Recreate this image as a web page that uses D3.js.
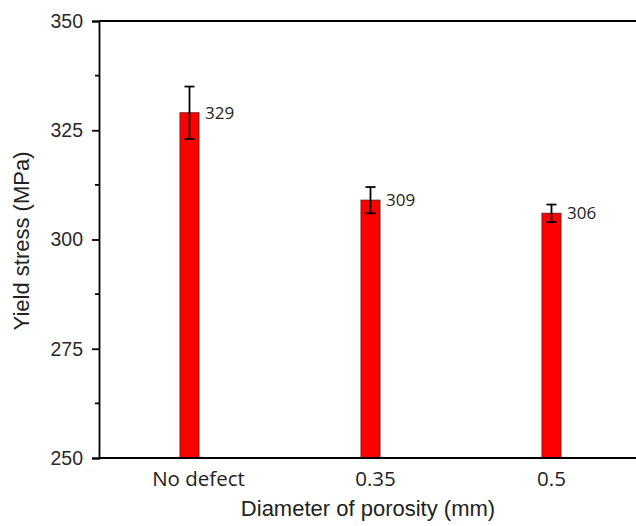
<!DOCTYPE html>
<html><head><meta charset="utf-8">
<script src="https://cdn.jsdelivr.net/npm/d3@7"></script>
<style>body{margin:0;background:#fff}svg{display:block}</style>
</head><body>
<svg id="c" width="636" height="526"></svg>
<script>
const categories = ["No defect", "0.35", "0.5"];
const values = [329, 309, 306];
const errors = [6, 3, 2];
const yTicks = [250, 275, 300, 325, 350];

const svg = d3.select("#c");
const m = {left: 99, top: 21, bottom: 458};
const x = d3.scaleLinear().domain([0.5, 3.5]).range([m.left, m.left + 543]);
const y = d3.scaleLinear().domain([250, 350]).range([m.bottom, m.top]);
const barW = 19;
const catLabelShift = [9, 5, 0]; // layout nudges of the category labels

// bars
svg.selectAll("rect.bar").data(values).enter().append("rect")
  .attr("x", (d, i) => x(i + 1) - barW / 2)
  .attr("y", d => y(d))
  .attr("width", barW)
  .attr("height", d => y(250) - y(d))
  .attr("fill", "#ff0000")
  .attr("stroke", "#7a1a1a").attr("stroke-width", 1);

// error bars
const eg = svg.selectAll("g.err").data(values).enter().append("g")
  .attr("stroke", "#000").attr("stroke-width", 1.8);
eg.append("line").attr("x1", (d, i) => x(i + 1)).attr("x2", (d, i) => x(i + 1))
  .attr("y1", (d, i) => y(d + errors[i])).attr("y2", (d, i) => y(d - errors[i]));
eg.append("line").attr("x1", (d, i) => x(i + 1) - 5).attr("x2", (d, i) => x(i + 1) + 5)
  .attr("y1", (d, i) => y(d + errors[i])).attr("y2", (d, i) => y(d + errors[i]));
eg.append("line").attr("x1", (d, i) => x(i + 1) - 5).attr("x2", (d, i) => x(i + 1) + 5)
  .attr("y1", (d, i) => y(d - errors[i])).attr("y2", (d, i) => y(d - errors[i]));

// value labels
svg.selectAll("text.val").data(values).enter().append("text")
  .attr("x", (d, i) => x(i + 1) + 15.5)
  .attr("y", d => y(d))
  .attr("dy", "0.36em")
  .attr("font-family", "'Open Sans', sans-serif").attr("font-size", 17)
  .attr("fill", "#222")
  .text(d => d);

// y axis
const yAxis = d3.axisLeft(y).tickValues(yTicks).tickSize(7).tickPadding(9);
const ga = svg.append("g").attr("transform", `translate(${m.left},0)`).call(yAxis);
ga.select(".domain").attr("stroke-width", 1.8);
ga.selectAll(".tick line").attr("stroke-width", 1.8);
ga.selectAll("text").attr("font-family", "'Liberation Sans', Arial, sans-serif").attr("font-size", 19.5).attr("fill", "#2a2a2a");
// minor ticks
const minor = [262.5, 287.5, 312.5, 337.5];
svg.selectAll("line.minor").data(minor).enter().append("line")
  .attr("x1", m.left - 4).attr("x2", m.left).attr("y1", d => y(d)).attr("y2", d => y(d))
  .attr("stroke", "#000").attr("stroke-width", 1.8);

// x axis baseline and top line
svg.append("line").attr("x1", m.left).attr("x2", 636).attr("y1", y(250)).attr("y2", y(250))
  .attr("stroke", "#000").attr("stroke-width", 1.8);
svg.append("line").attr("x1", m.left).attr("x2", 636).attr("y1", y(350)).attr("y2", y(350))
  .attr("stroke", "#000").attr("stroke-width", 1.8);

// x tick labels
svg.selectAll("text.cat").data(categories).enter().append("text")
  .attr("x", (d, i) => x(i + 1) + catLabelShift[i]).attr("y", 486)
  .attr("text-anchor", "middle")
  .attr("font-family", "'Open Sans', sans-serif").attr("font-size", 20.5).attr("fill", "#222")
  .text(d => d);

// axis titles
svg.append("text").attr("x", 368).attr("y", 516).attr("text-anchor", "middle")
  .attr("font-family", "'Liberation Sans', Arial, sans-serif").attr("font-size", 22).attr("fill", "#222")
  .text("Diameter of porosity (mm)");
svg.append("text").attr("transform", `translate(29,241) rotate(-90)`)
  .attr("text-anchor", "middle")
  .attr("font-family", "'Liberation Sans', Arial, sans-serif").attr("font-size", 22).attr("fill", "#222")
  .text("Yield stress (MPa)");
</script>
</body></html>
